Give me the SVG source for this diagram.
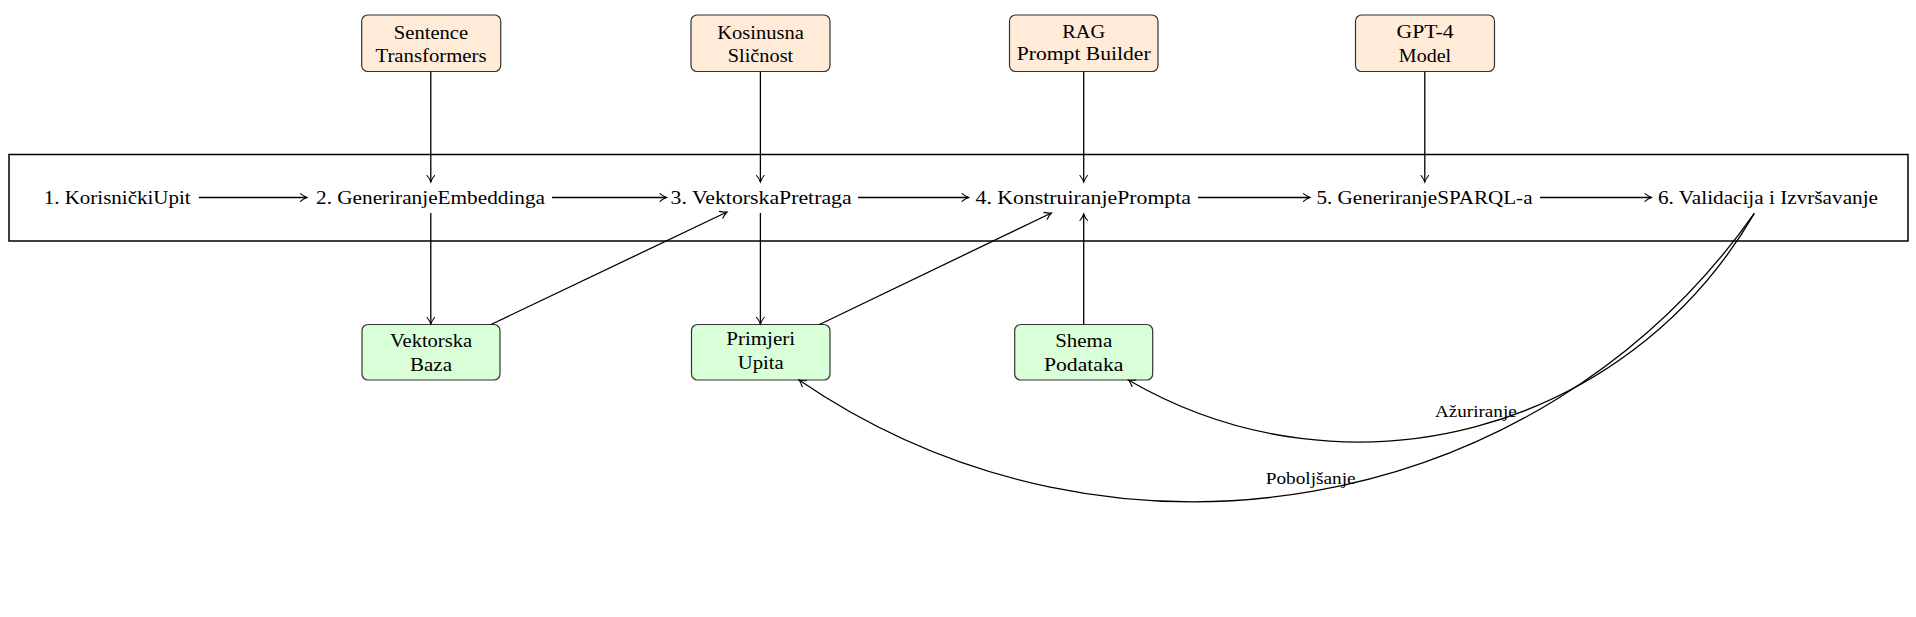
<svg xmlns="http://www.w3.org/2000/svg" width="1916" height="617" viewBox="0 0 1916 617">
<defs>
<marker id="arr" viewBox="-8 -5 10 10" refX="0" refY="0" markerWidth="10" markerHeight="10" markerUnits="userSpaceOnUse" orient="auto">
<path d="M-6.5,-3.8 C-4,-1.6 -1.2,-0.4 0,0 C-1.2,0.4 -4,1.6 -6.5,3.8" fill="none" stroke="#000" stroke-width="1.1" stroke-linecap="round"/>
</marker>
<style>
.t{font-family:"Liberation Serif","Times New Roman",serif;font-size:19.5px;fill:#000}
.lbl{font-family:"Liberation Serif","Times New Roman",serif;font-size:17.5px;fill:#000}
.tool{fill:#FFEBD8;stroke:#333;stroke-width:1.2}
.data{fill:#D9FFD9;stroke:#333;stroke-width:1.2}
.c{fill:none;stroke:#000;stroke-width:1.3;marker-end:url(#arr)}
.frame{fill:none;stroke:#000;stroke-width:1.5}
</style>
</defs>
<rect width="1916" height="617" fill="#fff"/>

<g id="pipeline">
<rect class="frame" x="9" y="154.5" width="1899" height="86.5"/>
</g>

<g id="s1"><text class="t" x="43.7" y="203.5" textLength="147" lengthAdjust="spacingAndGlyphs">1. KorisničkiUpit</text></g>
<g id="s2"><text class="t" x="316" y="203.5" textLength="229" lengthAdjust="spacingAndGlyphs">2. GeneriranjeEmbeddinga</text></g>
<g id="s3"><text class="t" x="670.6" y="203.5" textLength="181" lengthAdjust="spacingAndGlyphs">3. VektorskaPretraga</text></g>
<g id="s4"><text class="t" x="975.5" y="203.5" textLength="215.5" lengthAdjust="spacingAndGlyphs">4. KonstruiranjePrompta</text></g>
<g id="s5"><text class="t" x="1316.5" y="203.5" textLength="216" lengthAdjust="spacingAndGlyphs">5. GeneriranjeSPARQL-a</text></g>
<g id="s6"><text class="t" x="1658" y="203.5" textLength="220" lengthAdjust="spacingAndGlyphs">6. Validacija i Izvršavanje</text></g>

<g id="sentence-transformers">
<rect class="tool" x="361.7" y="15" width="139" height="56.5" rx="6"/>
<text class="t" x="431" y="39.3" text-anchor="middle" textLength="74.3" lengthAdjust="spacingAndGlyphs">Sentence</text>
<text class="t" x="431" y="62.3" text-anchor="middle" textLength="111" lengthAdjust="spacingAndGlyphs">Transformers</text>
</g>
<g id="kosinusna">
<rect class="tool" x="691" y="15" width="139" height="56.5" rx="6"/>
<text class="t" x="760.5" y="39.3" text-anchor="middle" textLength="86.5" lengthAdjust="spacingAndGlyphs">Kosinusna</text>
<text class="t" x="760.5" y="62.3" text-anchor="middle" textLength="65.3" lengthAdjust="spacingAndGlyphs">Sličnost</text>
</g>
<g id="rag">
<rect class="tool" x="1009.5" y="15" width="148.5" height="56.5" rx="6"/>
<text class="t" x="1083.7" y="37.7" text-anchor="middle" textLength="43" lengthAdjust="spacingAndGlyphs">RAG</text>
<text class="t" x="1083.7" y="60" text-anchor="middle" textLength="134" lengthAdjust="spacingAndGlyphs">Prompt Builder</text>
</g>
<g id="gpt4">
<rect class="tool" x="1355.5" y="15" width="139" height="56.5" rx="6"/>
<text class="t" x="1425" y="38.3" text-anchor="middle" textLength="57" lengthAdjust="spacingAndGlyphs">GPT-4</text>
<text class="t" x="1425" y="62.3" text-anchor="middle" textLength="52.3" lengthAdjust="spacingAndGlyphs">Model</text>
</g>

<g id="vektorska-baza">
<rect class="data" x="362" y="324.5" width="138" height="55.5" rx="6"/>
<text class="t" x="431" y="347.3" text-anchor="middle" textLength="82" lengthAdjust="spacingAndGlyphs">Vektorska</text>
<text class="t" x="431" y="370.7" text-anchor="middle" textLength="42" lengthAdjust="spacingAndGlyphs">Baza</text>
</g>
<g id="primjeri-upita">
<rect class="data" x="691.5" y="324.5" width="138.5" height="55.5" rx="6"/>
<text class="t" x="760.7" y="345" text-anchor="middle" textLength="69" lengthAdjust="spacingAndGlyphs">Primjeri</text>
<text class="t" x="760.7" y="369" text-anchor="middle" textLength="46" lengthAdjust="spacingAndGlyphs">Upita</text>
</g>
<g id="shema-podataka">
<rect class="data" x="1014.7" y="324.5" width="138" height="55.5" rx="6"/>
<text class="t" x="1083.7" y="347.3" text-anchor="middle" textLength="57" lengthAdjust="spacingAndGlyphs">Shema</text>
<text class="t" x="1083.7" y="370.7" text-anchor="middle" textLength="79.5" lengthAdjust="spacingAndGlyphs">Podataka</text>
</g>

<g id="connectors">
<path class="c" d="M198.8,197.5 H307"/>
<path class="c" d="M552,197.5 H666.5"/>
<path class="c" d="M858,197.5 H968.6"/>
<path class="c" d="M1198,197.5 H1310"/>
<path class="c" d="M1540,197.5 H1651.5"/>
<path class="c" d="M430.8,71.5 V182"/>
<path class="c" d="M760.4,71.5 V182"/>
<path class="c" d="M1083.7,71.5 V182"/>
<path class="c" d="M1424.8,71.5 V182"/>
<path class="c" d="M430.8,213 V324"/>
<path class="c" d="M491,324.5 L727,212"/>
<path class="c" d="M760.4,213 V324"/>
<path class="c" d="M819.5,324.5 L1051.4,213"/>
<path class="c" d="M1083.7,324.5 V214"/>
<path class="c" d="M1754.3,213.3 C1627.1,432.7 1347.7,507.2 1128.3,380"/>
<path class="c" d="M1754.3,213.3 C1540,518 1112,594 799,380"/>
<text class="lbl" x="1435" y="416.5" textLength="81.7" lengthAdjust="spacingAndGlyphs">Ažuriranje</text>
<text class="lbl" x="1265.7" y="484" textLength="90" lengthAdjust="spacingAndGlyphs">Poboljšanje</text>
</g>
</svg>
